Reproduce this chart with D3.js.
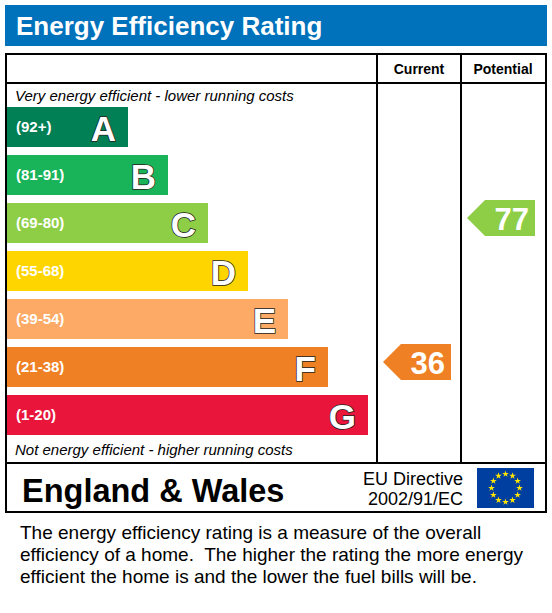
<!DOCTYPE html><html><head><script src="https://cdn.jsdelivr.net/npm/d3@7"></script>
<style>body{margin:0;background:#fff}svg{font-family:Arial,"Liberation Sans",sans-serif}</style></head><body>
<svg id="c" width="552" height="613"></svg>
<script>
const bands=["A","B","C","D","E","F","G"];
const ranges=["(92+)","(81-91)","(69-80)","(55-68)","(39-54)","(21-38)","(1-20)"];
const colors=["#008054","#19b459","#8dce46","#ffd500","#fcaa65","#ef8023","#e9153b"];
const barLen=[1,2,3,4,5,6,7];
const current=36, potential=77;
const bandOf=v=>v>=92?0:v>=81?1:v>=69?2:v>=55?3:v>=39?4:v>=21?5:6;

const svg=d3.select("#c");
const y=d3.scaleBand().domain(bands).range([107,435]).paddingInner(8/48).paddingOuter(0);
const x=d3.scaleLinear().domain([0,7]).range([88,368]);
svg.append("rect").attr("x",5).attr("y",5).attr("width",542).attr("height",41).attr("fill","#0072bc");
svg.append("text").attr("x",16).attr("y",35).attr("fill","#fff").attr("font-size",26).attr("font-weight","bold").text("Energy Efficiency Rating");
svg.append("rect").attr("x",6).attr("y",54).attr("width",540).attr("height",458).attr("fill","none").attr("stroke","#000").attr("stroke-width",2);
[[6,83,546,83],[6,463,546,463],[377,54,377,463],[461,54,461,463]].forEach(d=>svg.append("line").attr("x1",d[0]).attr("y1",d[1]).attr("x2",d[2]).attr("y2",d[3]).attr("stroke","#000").attr("stroke-width",2));
svg.append("text").attr("x",419).attr("y",74).attr("text-anchor","middle").attr("font-size",14).attr("font-weight","bold").text("Current");
svg.append("text").attr("x",503).attr("y",74).attr("text-anchor","middle").attr("font-size",14).attr("font-weight","bold").text("Potential");
svg.append("text").attr("x",15).attr("y",101).attr("font-size",15).attr("font-style","italic").text("Very energy efficient - lower running costs");
svg.append("text").attr("x",15).attr("y",455).attr("font-size",15).attr("font-style","italic").text("Not energy efficient - higher running costs");
const g=svg.selectAll("g.b").data(bands).join("g");
g.append("rect").attr("x",7).attr("y",d=>y(d)).attr("height",y.bandwidth()).attr("width",(d,i)=>x(barLen[i])-7).attr("fill",(d,i)=>colors[i]);
g.append("text").attr("x",16).attr("y",d=>y(d)+25).attr("fill","#fff").attr("font-size",15).attr("font-weight","bold").text((d,i)=>ranges[i]);
g.append("text").attr("x",(d,i)=>x(barLen[i])-12).attr("y",d=>y(d)+34).attr("text-anchor","end").attr("fill","#fff").attr("stroke","#222").attr("stroke-width",1.5).attr("paint-order","stroke").attr("font-size",35).attr("font-weight","bold").text(d=>d);
function arrow(v,x0){const b=bands[bandOf(v)],y0=y(b)-3,h=36,w=68;
 svg.append("path").attr("d",`M${x0},${y0+h/2}L${x0+18},${y0}H${x0+w}V${y0+h}H${x0+18}Z`).attr("fill",colors[bandOf(v)]);
 svg.append("text").attr("x",x0+w-6).attr("y",y0+30).attr("text-anchor","end").attr("fill","#fff").attr("font-size",31).attr("font-weight","bold").text(v);}
arrow(current,383);arrow(potential,467);
svg.append("text").attr("x",22).attr("y",502).attr("font-size",32.5).attr("font-weight","bold").text("England & Wales");
svg.append("text").attr("x",463).attr("y",485).attr("text-anchor","end").attr("font-size",18).text("EU Directive");
svg.append("text").attr("x",463).attr("y",505).attr("text-anchor","end").attr("font-size",18).text("2002/91/EC");
svg.append("rect").attr("x",477).attr("y",468).attr("width",57).attr("height",40).attr("fill","#003f9f");
const star=d3.symbol(d3.symbolStar,14);
d3.range(12).forEach(i=>{const a=i*Math.PI/6;svg.append("path").attr("d",star()).attr("transform",`translate(${505.5+14*Math.sin(a)},${488-14*Math.cos(a)})`).attr("fill","#ffe600");});
["The energy efficiency rating is a measure of the overall","efficiency of a home.  The higher the rating the more energy","efficient the home is and the lower the fuel bills will be."].forEach((t,i)=>svg.append("text").attr("x",20).attr("y",539+i*22).attr("font-size",19).attr("xml:space","preserve").text(t));
</script></body></html>
